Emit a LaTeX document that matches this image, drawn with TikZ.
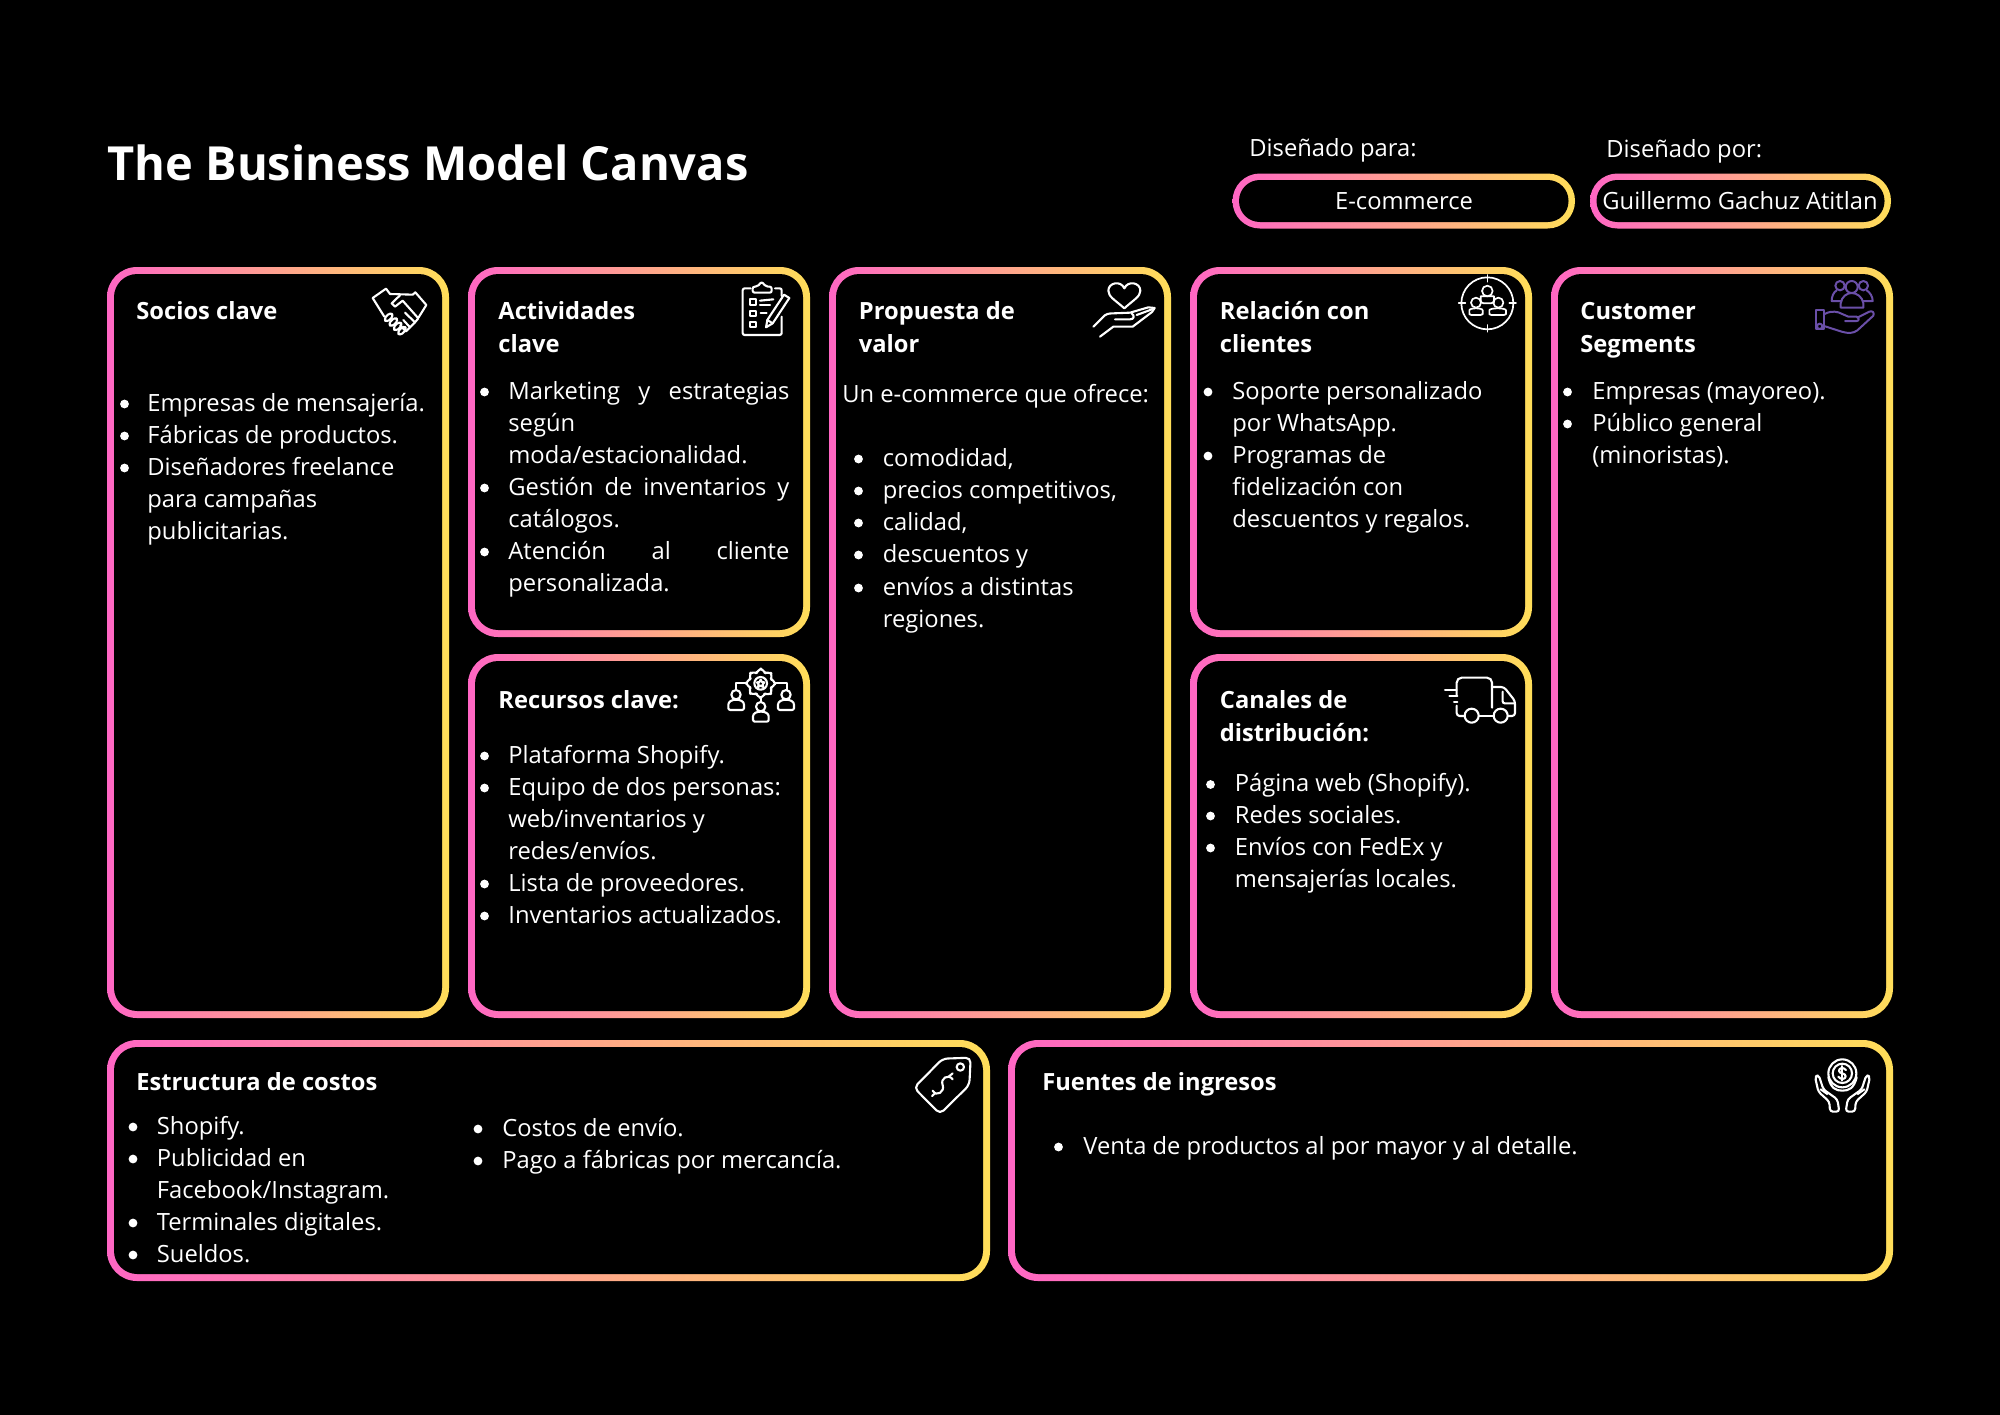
\documentclass[tikz,border=0pt]{standalone}
\usepackage{fontspec}
\setmainfont{Open Sans}
\definecolor{pinkc}{HTML}{FF66C4}
\definecolor{yellowc}{HTML}{FFDE59}
\definecolor{purplec}{HTML}{6A4FA8}
\tikzset{
  body/.style={anchor=base west,inner sep=0pt,text=white,align=left,font=\fontsize{11.87}{16}\selectfont},
  head/.style={anchor=base west,inner sep=0pt,text=white,align=left,font=\fontsize{11.85}{16.5}\selectfont\bfseries},
  icon/.style={draw=white,line width=1.05pt,line join=round,line cap=round,fill=none},
  picon/.style={draw=purplec,line width=1pt,line join=round,line cap=round,fill=none},
  zoomed/.style={shift={(#1)},scale=1/3}
}
\newcommand{\card}[4]{%
  \path[shade,left color=pinkc,right color=yellowc,rounded corners=15pt] (#1,#2) rectangle (#3,#4);
  \fill[black,rounded corners=11.6pt] ({#1+7},{#2+7}) rectangle ({#3-7},{#4-7});}
\newcommand{\pill}[4]{%
  \path[shade,left color=pinkc,right color=yellowc,rounded corners=13.7pt] (#1,#2) rectangle (#3,#4);
  \fill[black,rounded corners=10.4pt] ({#1+6.5},{#2+6.5}) rectangle ({#3-6.5},{#4-6.5});}
% [lines]{name}{bullet x}{text x}{first baseline}{text}: a multi-line node's base is its last line
\newcommand{\itm}[6][1]{%
  \fill[white] (#3,{#5-7}) circle (4.4);
  \node[body] (#2) at (#4,{#5+(#1-1)*32}) {#6};}
\newcommand{\justl}[1]{\makebox[140.5pt][s]{#1}}
\begin{document}
\begin{tikzpicture}[x=0.5pt,y=-0.5pt]
\useasboundingbox (0,0) rectangle (2000,1414);
\fill[black] (-6,-6) rectangle (2006,1420);

% header
\node[anchor=base west,inner sep=0pt,text=white,font=\fontsize{23.5}{30}\selectfont\bfseries] (title) at (107,180) {The Business Model Canvas};
\node[body] (paraL) at (1249,156) {Diseñado para:};
\node[body] (porL) at (1606,157) {Diseñado por:};
\pill{1232.5}{173.5}{1575}{228.5}
\pill{1590}{173.5}{1891}{228.5}
\node[body,anchor=base] (paraV) at (1404,209) {E-commerce};
\node[body,anchor=base] (porV) at (1740,209) {Guillermo Gachuz Atitlan};

% cards
\card{107}{267}{449}{1018}
\card{468}{267}{810}{637}
\card{468}{654}{810}{1018}
\card{829}{267}{1171}{1018}
\card{1190}{267}{1532}{637}
\card{1190}{654}{1532}{1018}
\card{1551}{267}{1893}{1018}
\card{107}{1040}{990}{1281}
\card{1008}{1040}{1893}{1281}

% Socios
\node[head] (socT) at (136,319) {Socios clave};
\itm{soc1}{124.5}{147}{411}{Empresas de mensajería.}
\itm{soc2}{124.5}{147}{443}{Fábricas de productos.}
\itm[3]{soc3}{124.5}{147}{475}{Diseñadores freelance\\para campañas\\publicitarias.}

% Actividades
\node[head] (actT) at (498,352) {Actividades\\clave};
\itm[3]{act1}{484.5}{508}{399}{\justl{Marketing y estrategias}\\según\\moda/estacionalidad.}
\itm[2]{act2}{484.5}{508}{495}{\justl{Gestión de inventarios y}\\catálogos.}
\itm[2]{act3}{484.5}{508}{559}{\justl{Atención al cliente}\\personalizada.}

% Recursos
\node[head] (recT) at (498,708) {Recursos clave:};
\itm{rec1}{484.5}{508}{763}{Plataforma Shopify.}
\itm[3]{rec2}{484.5}{508}{795}{Equipo de dos personas:\\web/inventarios y\\redes/envíos.}
\itm{rec3}{484.5}{508}{891}{Lista de proveedores.}
\itm{rec4}{484.5}{508}{923}{Inventarios actualizados.}

% Propuesta
\node[head] (proT) at (858.5,352) {Propuesta de\\valor};
\node[body] (proI) at (842,402) {Un e-commerce que ofrece:};
\itm{pro1}{858.5}{882.5}{466}{comodidad,}
\itm{pro2}{858.5}{882.5}{498}{precios competitivos,}
\itm{pro3}{858.5}{882.5}{530}{calidad,}
\itm{pro4}{858.5}{882.5}{562}{descuentos y}
\itm[2]{pro5}{858.5}{882.5}{595}{envíos a distintas\\regiones.}

% Relacion
\node[head] (relT) at (1219.5,352) {Relación con\\clientes};
\itm[2]{rel1}{1208}{1232}{399}{Soporte personalizado\\por WhatsApp.}
\itm[3]{rel2}{1208}{1232}{463}{Programas de\\fidelización con\\descuentos y regalos.}

% Canales
\node[head] (canT) at (1219.5,741) {Canales de\\distribución:};
\itm{can1}{1210.5}{1234.5}{791.5}{Página web (Shopify).}
\itm{can2}{1210.5}{1234.5}{823}{Redes sociales.}
\itm[2]{can3}{1210.5}{1234.5}{855}{Envíos con FedEx y\\mensajerías locales.}

% Customer
\node[head] (cusT) at (1580,352) {Customer\\Segments};
\itm{cus1}{1567.5}{1592}{399}{Empresas (mayoreo).}
\itm[2]{cus2}{1567.5}{1592}{431}{Público general\\(minoristas).}

% Estructura
\node[head] (estT) at (136,1090) {Estructura de costos};
\itm{est1}{133}{156.5}{1134}{Shopify.}
\itm[2]{est2}{133}{156.5}{1166}{Publicidad en\\Facebook/Instagram.}
\itm{est3}{133}{156.5}{1230}{Terminales digitales.}
\itm{est4}{133}{156.5}{1262}{Sueldos.}
\itm{est5}{478}{502}{1136}{Costos de envío.}
\itm{est6}{478}{502}{1168}{Pago a fábricas por mercancía.}

% Fuentes
\node[head] (fueT) at (1042,1090) {Fuentes de ingresos};
\itm{fue1}{1058.5}{1083}{1154}{Venta de productos al por mayor y al detalle.}

% --- icons ---
% handshake
\begin{scope}[zoomed={350,260}]
\draw[icon] (68,114) -- (108,86) -- (120,102) -- (188,104) -- (196,97) -- (229,135) -- (206,172);
\draw[icon] (68,114) -- (103,170);
\draw[icon] (150,106) -- (125,130) -- (135,140) -- (158,122) -- (205,175) -- (195,187) -- (165,158);
\draw[icon] (195,187) -- (180,202) -- (160,180);
\draw[icon] (180,202) -- (168,214) -- (150,196);
\foreach \cx/\cy in {116/172,130/186,143/199,156/212}
  \draw[icon,rotate around={45:(\cx,\cy)},rounded corners=1.5pt] ({\cx-14},{\cy-7}) rectangle ({\cx+14},{\cy+7});
\end{scope}
% clipboard
\begin{scope}[zoomed={720,270}]
\draw[icon,rounded corners=1pt] (92,55) -- (68,55) -- (68,195) -- (185,195) -- (185,140);
\draw[icon,rounded corners=1pt] (165,55) -- (185,55) -- (185,78);
\draw[icon,rounded corners=1pt] (98,68) -- (98,50) -- (112,50) -- (125,35) -- (138,50) -- (155,50) -- (155,68) -- cycle;
\draw[icon] (90,88) rectangle (108,104);
\draw[icon] (90,122) rectangle (108,138);
\draw[icon] (90,155) rectangle (108,172);
\draw[icon] (120,92) -- (160,88);
\draw[icon] (120,104) -- (150,104);
\draw[icon] (122,130) -- (140,130);
\draw[icon] (138,172) -- (142,150) -- (192,74) -- (208,84) -- (158,160) -- cycle;
\draw[icon] (142,150) -- (158,160);
\end{scope}
% heart in hand
\begin{scope}[zoomed={1080,270}]
\draw[icon] (133,115) .. controls (105,90) and (85,80) .. (85,62) .. controls (85,38) and (122,30) .. (133,55) .. controls (144,30) and (181,38) .. (181,62) .. controls (181,80) and (160,90) .. (133,115) -- cycle;
\draw[icon] (40,170) -- (68,142) .. controls (76,132) and (86,130) .. (100,130) -- (150,128) -- (205,112) -- (224,114) -- (216,126) -- (158,170) -- (100,170) -- (60,200);
\draw[icon] (105,148) -- (150,148) .. controls (162,148) and (165,138) .. (155,130);
\draw[icon] (170,135) -- (216,118);
\end{scope}
% target people
\begin{scope}[zoomed={1450,265},icon/.append style={line width=0.85pt}]
\draw[icon] (112,115) circle (78);
\draw[icon] (112,30) -- (112,50);
\draw[icon] (112,180) -- (112,200);
\draw[icon] (26,115) -- (46,115);
\draw[icon] (178,115) -- (198,115);
\draw[icon] (112,78) circle (16);
\draw[icon,rounded corners=1.5pt] (92,115) -- (92,103) .. controls (92,94) and (132,94) .. (132,103) -- (132,115) -- cycle;
\draw[icon] (78,113) circle (15);
\draw[icon,rounded corners=1pt] (58,150) -- (58,142) .. controls (58,128) and (98,128) .. (98,142) -- (98,150) -- cycle;
\draw[icon] (145,113) circle (15);
\draw[icon,rounded corners=1pt] (118,150) -- (118,142) .. controls (118,128) and (168,128) .. (168,142) -- (168,150) -- cycle;
\end{scope}
% customer segments
\begin{scope}[zoomed={1800,265}]
\draw[picon] (120,62) circle (14);
\draw[picon] (155,66) circle (18);
\draw[picon] (190,62) circle (14);
\draw[picon] (122,128) -- (122,115) .. controls (125,95) and (140,84) .. (155,84) .. controls (170,84) and (187,95) .. (190,115) -- (190,128) -- cycle;
\draw[picon] (110,76) .. controls (100,82) and (95,95) .. (95,108) -- (122,108);
\draw[picon] (200,76) .. controls (210,82) and (218,95) .. (218,108) -- (190,108);
\draw[picon] (47,135) rectangle (72,193);
\draw[picon] (59,184) circle (8);
\draw[picon] (72,148) .. controls (85,140) and (100,138) .. (115,142) -- (145,155) -- (170,155) .. controls (178,158) and (178,168) .. (170,168) -- (135,168);
\draw[picon] (72,183) -- (125,200) .. controls (145,206) and (160,205) .. (172,196) -- (220,152) .. controls (224,142) and (216,136) .. (208,140) -- (172,158);
\end{scope}
% gear people
\begin{scope}[zoomed={720,660}]
\draw[icon,rounded corners=1pt] plot[samples at={0,11.25,...,348.75},variable=\a] ({122+(mod(round(\a/11.25),4)<2?44:34)*cos(\a-5)},{70+(mod(round(\a/11.25),4)<2?44:34)*sin(\a-5)}) -- cycle;
\draw[icon] (122,70) circle (19);
\draw[icon] (122,59) -- (126,66) -- (133,67) -- (128,73) -- (130,81) -- (122,77) -- (114,81) -- (116,73) -- (111,67) -- (118,66) -- cycle;
\draw[icon] (80,68) -- (48,68) -- (48,90);
\draw[icon] (165,68) -- (200,68) -- (200,90);
\draw[icon] (122,113) -- (122,125);
\draw[icon] (48,104) circle (14);
\draw[icon,rounded corners=1pt] (25,150) -- (25,140) .. controls (25,114) and (72,114) .. (72,140) -- (72,150) -- cycle;
\draw[icon] (198,104) circle (14);
\draw[icon,rounded corners=1pt] (174,150) -- (174,140) .. controls (174,114) and (222,114) .. (222,140) -- (222,150) -- cycle;
\draw[icon] (122,140) circle (14);
\draw[icon,rounded corners=1pt] (99,185) -- (99,175) .. controls (99,150) and (146,150) .. (146,175) -- (146,185) -- cycle;
\end{scope}
% truck
\begin{scope}[zoomed={1430,665}]
\draw[icon,rounded corners=2.5pt] (80,92) -- (80,38) -- (186,38) -- (186,128);
\draw[icon,rounded corners=1.5pt] (80,122) -- (80,153) -- (103,153);
\draw[icon] (147,153) -- (190,153);
\draw[icon] (125,152) circle (21);
\draw[icon] (212,152) circle (21);
\draw[icon,rounded corners=1.5pt] (186,66) -- (222,66) -- (255,108) -- (255,153) -- (235,153);
\draw[icon,rounded corners=1pt] (218,80) -- (218,115) -- (252,115);
\draw[icon] (45,75) -- (80,75);
\draw[icon] (58,92) -- (82,92);
\draw[icon] (72,110) -- (82,110);
\end{scope}
% price tag
\begin{scope}[zoomed={900,1050}]
\draw[icon,rounded corners=2.5pt] (42,113) -- (128,26) -- (212,23) -- (208,105) -- (120,192) -- cycle;
\draw[icon] (181,51) circle (11);
\draw[icon] (158,88) .. controls (145,70) and (120,85) .. (128,105) .. controls (135,125) and (110,142) .. (98,122);
\draw[icon] (146,80) -- (158,70);
\draw[icon] (105,130) -- (96,138);
\end{scope}
% money hands
\begin{scope}[zoomed={1800,1050}]
\draw[icon] (127,70) circle (42);
\draw[icon] (127,70) circle (29);
\draw[icon] (138,60) .. controls (130,50) and (116,54) .. (117,63) .. controls (118,72) and (137,68) .. (137,79) .. controls (137,88) and (122,90) .. (115,80);
\draw[icon] (127,48) -- (127,92);
\draw[icon] (85,82) .. controls (92,115) and (108,122) .. (127,122) .. controls (146,122) and (162,115) .. (170,82);
\draw[icon,rounded corners=1.5pt] (45,80) -- (56,75) -- (70,118) -- (112,148) -- (118,185) -- (90,185) -- (88,155) -- (55,125) -- cycle;
\draw[icon] (62,118) -- (82,132);
\draw[icon,rounded corners=1.5pt] (210,80) -- (199,75) -- (185,118) -- (143,148) -- (137,185) -- (165,185) -- (167,155) -- (200,125) -- cycle;
\draw[icon] (193,118) -- (173,132);
\end{scope}
\end{tikzpicture}
\end{document}
